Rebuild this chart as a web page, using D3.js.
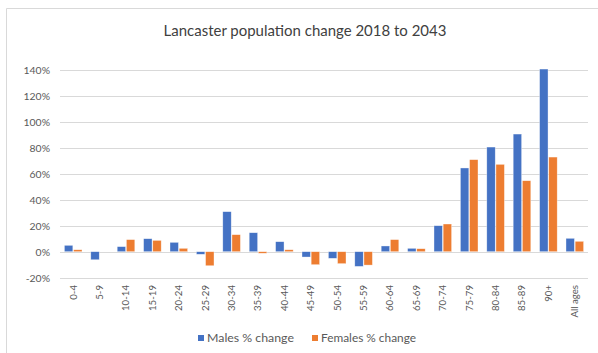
<!DOCTYPE html>
<html>
<head>
<meta charset="utf-8">
<script src="https://cdn.jsdelivr.net/npm/d3@7"></script>
<style>
  html, body { margin: 0; padding: 0; background: #fff; }
  svg { display: block; font-family: Lato, "Liberation Sans", sans-serif; }
</style>
</head>
<body>
<svg id="chart" width="598" height="353"></svg>
<script>
// Age bands and projected % change 2018 -> 2043
const categories = ["0-4", "5-9", "10-14", "15-19", "20-24", "25-29", "30-34", "35-39", "40-44", "45-49",
  "50-54", "55-59", "60-64", "65-69", "70-74", "75-79", "80-84", "85-89", "90+", "All ages"];
const males   = [4.9, -6.2, 3.9, 10.0, 7.2, -2.0, 30.8, 14.6, 7.7, -4.1,
  -5.1, -11.3, 4.4, 2.6, 20.0, 64.4, 80.5, 90.5, 140.5, 10.3];
const females = [1.5, 0.0, 9.3, 8.7, 2.6, -10.8, 13.1, -1.2, 1.5, -10.0,
  -9.2, -10.3, 9.3, 2.3, 21.3, 70.8, 67.2, 54.6, 72.8, 8.0];
const yTicks = [-20, 0, 20, 40, 60, 80, 100, 120, 140];
const seriesNames = ["Males % change", "Females % change"];
const seriesColors = ["#4472C4", "#ED7D31"];

const svg = d3.select("#chart");
const W = 598, H = 353;
const plot = { left: 60, right: 588, top: 69.7, bottom: 277.7 };

// Shrink or grow a text node's font so it spans the given width
function fitWidth(sel, target) {
  const node = sel.node();
  const fs = parseFloat(sel.attr("font-size"));
  const w = node.getComputedTextLength();
  if (w > 0) sel.attr("font-size", (fs * target / w).toFixed(2));
  return sel;
}

// chart frame
svg.append("path")
  .attr("d", `M6.5,${H + 2} V8.5 H${W + 2}`)
  .attr("fill", "none").attr("stroke", "#d9d9d9").attr("stroke-width", 1);

const x = d3.scaleBand().domain(categories)
  .range([plot.left, plot.right]).paddingInner(0.333).paddingOuter(0.1667);
const xs = d3.scaleBand().domain([0, 1]).range([0, x.bandwidth()]).paddingInner(0.08);
const y = d3.scaleLinear().domain([-20, 140]).range([plot.bottom, plot.top]);

// gridlines
svg.append("g").selectAll("line").data(yTicks).join("line")
  .attr("x1", plot.left).attr("x2", plot.right)
  .attr("y1", d => Math.round(y(d)) + 0.5).attr("y2", d => Math.round(y(d)) + 0.5)
  .attr("stroke", "#d9d9d9").attr("stroke-width", 1);

// y axis labels
const yAxis = svg.append("g").attr("transform", "translate(50,0)")
  .call(d3.axisLeft(y).tickValues(yTicks).tickSize(0).tickPadding(0).tickFormat(d => d + "%"));
yAxis.select(".domain").remove();
yAxis.selectAll("text").attr("fill", "#595959").attr("font-size", 11)
  .attr("font-family", "Lato, 'Liberation Sans', sans-serif");
fitWidth(yAxis.selectAll("text").filter(d => d === 140), 26.5);
const yfs = yAxis.selectAll("text").filter(d => d === 140).attr("font-size");
yAxis.selectAll("text").attr("font-size", yfs);

// bars
const rows = categories.map((c, i) => ({ cat: c, vals: [males[i], females[i]] }));
const groups = svg.append("g").selectAll("g").data(rows).join("g")
  .attr("transform", d => `translate(${x(d.cat)},0)`);
groups.selectAll("rect").data(d => d.vals.map((v, s) => ({ v, s }))).join("rect")
  .attr("x", d => xs(d.s))
  .attr("width", xs.bandwidth())
  .attr("y", d => y(Math.max(0, d.v)))
  .attr("height", d => Math.abs(y(d.v) - y(0)))
  .attr("fill", d => seriesColors[d.s])
  .attr("stroke", "#ffffff").attr("stroke-opacity", 0.6).attr("stroke-width", 0.6);

// x axis labels, rotated
const xl = svg.append("g").selectAll("text").data(categories).join("text")
  .attr("transform", d => `translate(${x(d) + x.bandwidth() / 2},285) rotate(-90)`)
  .attr("text-anchor", "end").attr("dy", "0.35em")
  .attr("fill", "#595959").attr("font-size", 11)
  .text(d => d);
fitWidth(xl.filter(d => d === "10-14"), 26);
const xfs = xl.filter(d => d === "10-14").attr("font-size");
xl.attr("font-size", xfs);

// title
const title = svg.append("text")
  .attr("x", 305).attr("y", 36).attr("text-anchor", "middle")
  .attr("fill", "#404040").attr("font-size", 15)
  .text("Lancaster population change 2018 to 2043");
fitWidth(title, 283);

// legend
const legendX = [198, 312];
const leg = svg.append("g").selectAll("g").data(seriesNames).join("g")
  .attr("transform", (d, i) => `translate(${legendX[i]},338)`);
leg.append("rect").attr("x", 0).attr("y", -3).attr("width", 6).attr("height", 6)
  .attr("fill", (d, i) => seriesColors[i]);
const legText = leg.append("text").attr("x", 9).attr("dy", "0.35em")
  .attr("fill", "#595959").attr("font-size", 12).text(d => d);
legText.each(function (d, i) { fitWidth(d3.select(this), i === 0 ? 87 : 95); });
</script>
</body>
</html>
